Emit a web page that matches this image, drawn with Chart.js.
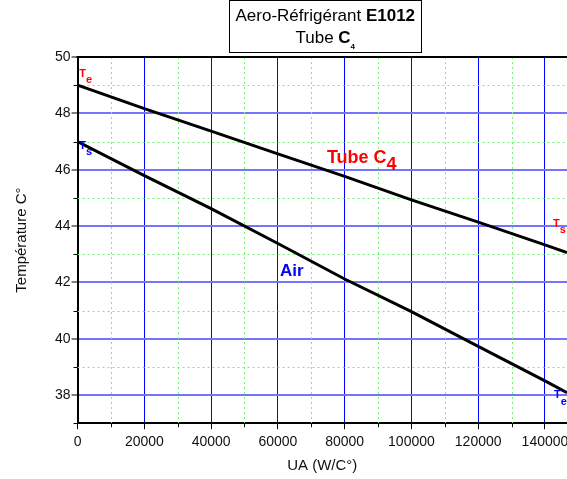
<!DOCTYPE html>
<html>
<head>
<meta charset="utf-8">
<script src="https://cdn.jsdelivr.net/npm/chart.js@4/dist/chart.umd.min.js"></script>
<style>
  html, body { margin: 0; padding: 0; background: #fff; }
  canvas { display: block; }
</style>
</head>
<body>
<canvas id="chart" width="567" height="479"></canvas>
<script>
// UA values (W/C°) where the temperatures were read
const uaValues = [0, 20000, 40000, 60000, 80000, 100000, 120000, 140000, 146600];
// tube C4 temperature, Te at inlet (UA = 0) down to Ts at outlet
const tubeC4 = [49.0, 48.17, 47.37, 46.56, 45.76, 44.93, 44.14, 43.33, 43.06];
// air temperature, Ts at UA = 0 down to Te
const air = [47.0, 45.79, 44.62, 43.38, 42.12, 40.96, 39.73, 38.5, 38.08];
// axis tick labels
const xTicks = [0, 20000, 40000, 60000, 80000, 100000, 120000, 140000];
const yTicks = [38, 40, 42, 44, 46, 48, 50];

const FONT = '"Liberation Sans", Arial, sans-serif';

function toPoints(xs, ys) {
  return xs.map((x, i) => ({ x: x, y: ys[i] }));
}

function fixedTicks(values) {
  return scale => { scale.ticks = values.map(v => ({ value: v })); };
}

// dotted minor grid + minor tick marks + top frame line
const minorGrid = {
  id: 'minorGrid',
  beforeDatasetsDraw(chart) {
    const { ctx, chartArea: a, scales: { x, y } } = chart;
    ctx.save();
    ctx.strokeStyle = '#74f274';
    ctx.lineWidth = 1;
    ctx.setLineDash([2, 3]);
    for (let v = 10000; v < x.max; v += 20000) {
      const px = Math.round(x.getPixelForValue(v)) + 0.5;
      ctx.beginPath(); ctx.moveTo(px, a.top); ctx.lineTo(px, a.bottom); ctx.stroke();
    }
    for (let v = 39; v < y.max; v += 2) {
      const py = Math.round(y.getPixelForValue(v)) + 0.5;
      ctx.beginPath(); ctx.moveTo(a.left, py); ctx.lineTo(a.right, py); ctx.stroke();
    }
    ctx.restore();
  },
  afterDraw(chart) {
    const { ctx, chartArea: a, scales: { x, y } } = chart;
    ctx.save();
    ctx.strokeStyle = '#000';
    ctx.lineWidth = 1;
    for (let v = 10000; v < x.max; v += 20000) {
      const px = Math.round(x.getPixelForValue(v)) + 0.5;
      ctx.beginPath(); ctx.moveTo(px, a.bottom); ctx.lineTo(px, a.bottom + 4); ctx.stroke();
    }
    for (let v = 37; v < y.max; v += 2) {
      const py = Math.round(y.getPixelForValue(v)) + 0.5;
      ctx.beginPath(); ctx.moveTo(a.left - 4, py); ctx.lineTo(a.left, py); ctx.stroke();
    }
    ctx.lineWidth = 2;
    ctx.beginPath(); ctx.moveTo(a.left - 1, a.top); ctx.lineTo(a.right, a.top); ctx.stroke();
    ctx.restore();
  }
};

// draws text runs side by side: [text, font, color, baseline shift]
function drawRuns(ctx, runs, x, y) {
  ctx.textAlign = 'left';
  ctx.textBaseline = 'alphabetic';
  for (const [txt, font, color, dy] of runs) {
    ctx.font = font;
    ctx.fillStyle = color;
    ctx.fillText(txt, x, y + dy);
    x += ctx.measureText(txt).width;
  }
}

function runsWidth(ctx, runs) {
  let w = 0;
  for (const [txt, font] of runs) { ctx.font = font; w += ctx.measureText(txt).width; }
  return w;
}

// T_e / T_s markers and curve names, anchored in data space
const curveLabels = {
  id: 'curveLabels',
  afterDatasetsDraw(chart) {
    const { ctx, scales: { x, y } } = chart;
    const red = '#ff0000', blue = '#0000ff';
    const small = 'bold 11px ' + FONT;
    const big = 'bold 18px ' + FONT;
    const items = [
      [500, 49.28, [['T', small, red, 0], ['e', small, red, 6]]],
      [500, 46.72, [['T', small, blue, 0], ['s', small, blue, 6]]],
      [142400, 43.97, [['T', small, red, 0], ['s', small, red, 6]]],
      [142700, 37.91, [['T', small, blue, 0], ['e', small, blue, 7]]],
      [74700, 46.22, [['Tube C', big, red, 0], ['4', big, red, 7]]],
      [60600, 42.21, [['Air', 'bold 17px ' + FONT, blue, 0]]]
    ];
    ctx.save();
    for (const [vx, vy, runs] of items) {
      drawRuns(ctx, runs, x.getPixelForValue(vx), y.getPixelForValue(vy));
    }
    ctx.restore();
  }
};

// framed title box above the plot
const titleBox = {
  id: 'titleBox',
  afterDraw(chart) {
    const { ctx, chartArea: a } = chart;
    const cx = (a.left + a.right) / 2 + 3;
    const w = 192, h = 52;
    ctx.save();
    ctx.fillStyle = '#fff';
    ctx.fillRect(cx - w / 2, 0, w, h);
    ctx.strokeStyle = '#000';
    ctx.lineWidth = 1;
    ctx.strokeRect(Math.round(cx - w / 2) + 0.5, 0.5, w, h);
    const reg = '17px ' + FONT, bold = 'bold 17px ' + FONT;
    const line1 = [['Aero-Réfrigérant ', reg, '#000', 0], ['E1012', bold, '#000', 0]];
    const line2 = [['Tube ', reg, '#000', 0], ['C', bold, '#000', 0], ['4', 'bold 8px ' + FONT, '#000', 6]];
    drawRuns(ctx, line1, cx - runsWidth(ctx, line1) / 2, 21);
    drawRuns(ctx, line2, cx - runsWidth(ctx, line2) / 2, 43);
    ctx.restore();
  }
};

new Chart(document.getElementById('chart'), {
  type: 'line',
  data: {
    datasets: [
      {
        label: 'Tube C4',
        data: toPoints(uaValues, tubeC4),
        borderColor: '#000',
        borderWidth: 3,
        pointRadius: 0,
        fill: false
      },
      {
        label: 'Air',
        data: toPoints(uaValues, air),
        borderColor: '#000',
        borderWidth: 3,
        pointRadius: 0,
        fill: false
      }
    ]
  },
  options: {
    responsive: false,
    animation: false,
    devicePixelRatio: 1,
    layout: { padding: { top: 57, right: 0, left: 9, bottom: 0 } },
    plugins: {
      legend: { display: false },
      tooltip: { enabled: false },
      title: { display: false }
    },
    scales: {
      x: {
        type: 'linear',
        min: 0,
        max: 146600,
        afterBuildTicks: fixedTicks(xTicks),
        // plot runs to the right edge; the last label may overhang
        afterFit: scale => { scale.paddingRight = 0; },
        ticks: {
          autoSkip: false,
          maxRotation: 0,
          color: '#111',
          font: { family: FONT, size: 14 },
          padding: 5,
          callback: v => String(v)
        },
        grid: { color: '#0000ff', lineWidth: 1, tickColor: '#000', tickLength: 6, tickWidth: 1 },
        border: { color: '#000', width: 2 },
        title: { display: true, text: 'UA (W/C°)', color: '#111', font: { family: FONT, size: 15 }, padding: { top: 1 } }
      },
      y: {
        min: 37,
        max: 50,
        afterBuildTicks: fixedTicks(yTicks),
        ticks: {
          autoSkip: false,
          color: '#111',
          font: { family: FONT, size: 14 },
          padding: 1
        },
        grid: { color: '#7474ff', lineWidth: 2, tickColor: '#000', tickLength: 6, tickWidth: 1 },
        border: { color: '#000', width: 2 },
        title: { display: true, text: 'Température C°', color: '#111', font: { family: FONT, size: 15 }, padding: { bottom: 23 } }
      }
    }
  },
  plugins: [minorGrid, curveLabels, titleBox]
});
</script>
</body>
</html>
